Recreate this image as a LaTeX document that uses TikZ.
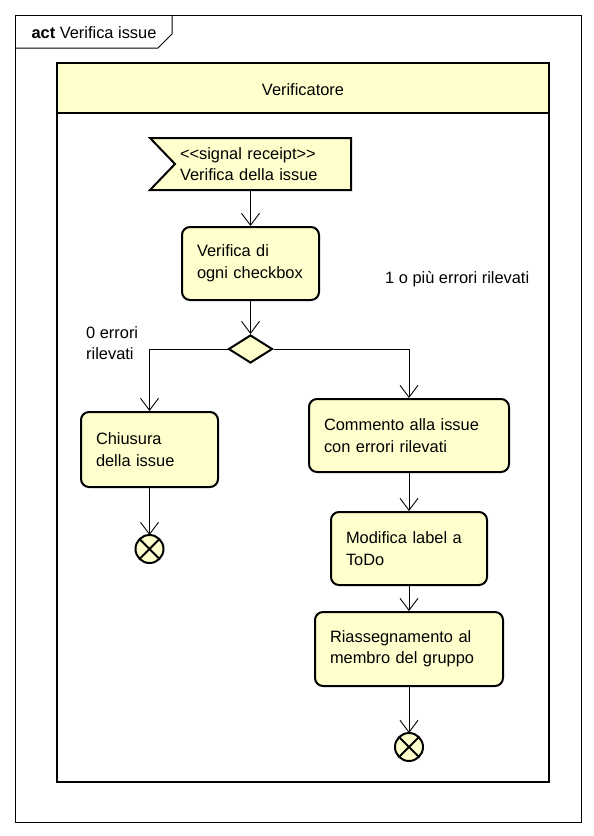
\documentclass[tikz,border=0pt]{standalone}
\usepackage{fontspec}
\setmainfont{Liberation Sans}
\usetikzlibrary{positioning, arrows.meta, shapes.geometric, backgrounds}
\definecolor{umlfill}{RGB}{255,255,206}

\begin{document}
\begin{tikzpicture}[
        x=1pt, y=-1pt,
        font=\fontsize{16.4}{21.5}\selectfont,
        >={Straight Barb[length=12pt,width=18pt]},
        action/.style={
            draw=black,
            line width=2pt,
            fill=umlfill,
            rounded corners=8pt,
            align=left,
            inner xsep=15pt,
            inner ysep=0pt
        },
        decision/.style={
            diamond,
            draw=black,
            line width=2pt,
            fill=umlfill,
            minimum width=44pt,
            minimum height=28pt,
            inner sep=0pt
        },
        finalnode/.style={
            circle,
            draw=black,
            line width=2pt,
            fill=umlfill,
            minimum size=28pt,
            inner sep=0pt,
            outer sep=0pt
        },
        guard/.style={align=left, inner sep=0pt},
        flow/.style={->, line width=0.9pt}
    ]
    \useasboundingbox (0,0) rectangle (594,836);
    
    % --- FRAME ---
    \draw[line width=1pt] (15,15) rectangle (581,822);
    \draw[line width=1pt] (15,48) -- (158,48) -- (172,34) -- (172,15);
    \node[anchor=west] (tab) at (28,33) {\textbf{act} Verifica issue};
    
    % --- LANE ---
    \draw[line width=2pt, fill=umlfill] (57,63) rectangle (549,113);
    \draw[line width=2pt] (57,113) rectangle (549,782);
    \node (lane) at (303,90) {Verificatore};
    
    % --- SIGNAL ---
    \node[align=left, text width=141pt, inner xsep=30pt, inner ysep=0pt,
          minimum height=52pt, outer sep=0pt] (sig) at (250.5,164) {
    <{}<signal receipt>{}>\\
    Verifica della issue
    };
    \begin{scope}[on background layer]
        \draw[line width=2pt, fill=umlfill] (sig.north west) -- (sig.north east)
            -- (sig.south east) -- (sig.south west) -- ([xshift=25pt]sig.west) -- cycle;
    \end{scope}
    
    % --- ACTIONS ---
    \node[action, text width=107pt, minimum height=73pt] (check) at (250.5,263.5) {
    Verifica di\\
    ogni checkbox
    };
    \node[decision] (dec) at (250.5,349) {};
    \node[action, text width=107pt, minimum height=75pt] (close) at (149.5,449.5) {
    Chiusura\\
    della issue
    };
    \node[action, text width=170pt, minimum height=73pt] (comment) at (409,435.5) {
    Commento alla issue\\
    con errori rilevati
    };
    \node[action, text width=126pt, minimum height=73pt] (modify) at (409,548.5) {
    Modifica label a\\
    ToDo
    };
    \node[action, text width=158pt, minimum height=74pt] (reassign) at (409,649) {
    Riassegnamento al\\
    membro del gruppo
    };
    
    % --- FINAL NODES ---
    \node[finalnode] (end1) at (149.5,549) {};
    \node[finalnode] (end2) at (409,747) {};
    \draw[line width=2pt] (end1.north west) -- (end1.south east)
        (end1.north east) -- (end1.south west);
    \draw[line width=2pt] (end2.north west) -- (end2.south east)
        (end2.north east) -- (end2.south west);
    
    % --- GUARDS ---
    \node[guard, anchor=west] (g0) at (86,343) {0 errori\\rilevati};
    \node[guard, anchor=west] (g1) at (385,279) {1 o più errori rilevati};
    
    % --- ARROWS ---
    \draw[flow] (sig) -- (check);
    \draw[flow] (check) -- (dec);
    \draw[flow] (dec) -| (close);
    \draw[flow] (dec) -| (comment);
    \draw[flow] (close) -- (end1);
    \draw[flow] (comment) -- (modify);
    \draw[flow] (modify) -- (reassign);
    \draw[flow] (reassign) -- (end2);
    
\end{tikzpicture}
\end{document}
